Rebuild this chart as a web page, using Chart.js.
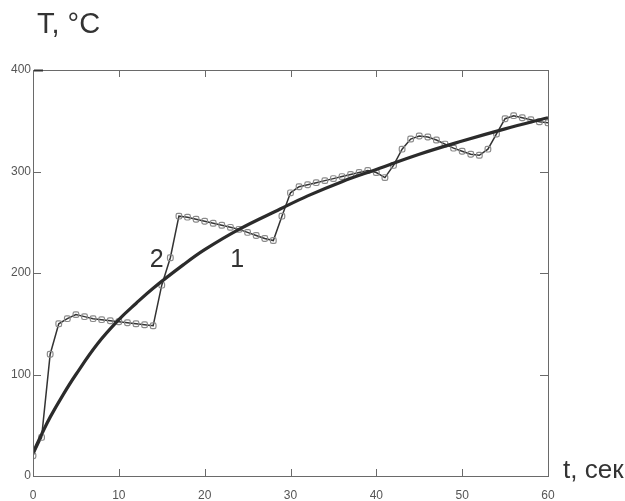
<!DOCTYPE html>
<html><head><meta charset="utf-8">
<script src="https://cdn.jsdelivr.net/npm/chart.js@4/dist/chart.umd.min.js"></script>
<style>html,body{margin:0;padding:0;background:#fff;}canvas{display:block}</style>
</head><body>
<canvas id="c" width="625" height="501"></canvas>
<script>
const xTicks=[0,10,20,30,40,50,60];
const yTicks=[0,100,200,300,400];
// curve 1 (smooth)
const t1=[0,1,2,3.5,5,7.5,10,12,14,17.5,20,24,28.8,32,36,40,45,50,55,60];
const T1=[23,41,58,80,100,130,154,170,185,208,223,243,263,276,290,302,317,330,342,353];
// curve 2 (measured, with markers)
const t2=[0,1,2,3,4,5,6,7,8,9,10,11,12,13,14,15,16,17,18,19,20,21,22,23,24,25,26,27,28,29,30,31,32,33,34,35,36,37,38,39,40,41,42,43,44,45,46,47,48,49,50,51,52,53,54,55,56,57,58,59,60];
const T2=[20,38,120,150,155,159,157,155,154,153,152,151,150,149,148,188,215,256,255,253,251,249,247,245,243,240,237,234,232,256,279,285,287,289,291,293,295,297,299,301,299,294,306,322,332,335,334,331,327,323,320,317,316,322,337,352,355,353,351,349,348];
const curveLabels=[{text:'2',t:14.4,T:213},{text:'1',t:23.8,T:213}];

const pts=(xs,ys)=>xs.map((x,i)=>({x:x,y:ys[i]}));

const framePlugin={
  id:'frame',
  afterDraw(chart){
    const ctx=chart.ctx, a=chart.chartArea, xs=chart.scales.x, ys=chart.scales.y;
    ctx.save();
    ctx.strokeStyle='#6a6a6a'; ctx.lineWidth=1;
    ctx.strokeRect(a.left+0.5,a.top+0.5,a.right-a.left,a.bottom-a.top);
    ctx.beginPath();
    xTicks.slice(1,-1).forEach(v=>{const p=Math.round(xs.getPixelForValue(v))+0.5;
      ctx.moveTo(p,a.bottom);ctx.lineTo(p,a.bottom-7);
      ctx.moveTo(p,a.top);ctx.lineTo(p,a.top+7);});
    yTicks.slice(1,-1).forEach(v=>{const p=Math.round(ys.getPixelForValue(v))+0.5;
      ctx.moveTo(a.left,p);ctx.lineTo(a.left+8,p);
      ctx.moveTo(a.right,p);ctx.lineTo(a.right-8,p);});
    ctx.stroke();
    ctx.lineWidth=2; ctx.strokeStyle='#333';
    ctx.beginPath(); const p4=ys.getPixelForValue(400);
    ctx.moveTo(a.left+1,p4+0.5); ctx.lineTo(a.left+10,p4+0.5); ctx.stroke();
    ctx.fillStyle='#333';
    ctx.font='25px "Liberation Sans", Arial, sans-serif';
    ctx.textAlign='center'; ctx.textBaseline='middle';
    curveLabels.forEach(l=>ctx.fillText(l.text,xs.getPixelForValue(l.t),ys.getPixelForValue(l.T)));
    ctx.textAlign='left'; ctx.textBaseline='alphabetic';
    ctx.font='29px "Liberation Sans", Arial, sans-serif';
    ctx.fillText('T, °C',37,33);
    ctx.font='26px "Liberation Sans", Arial, sans-serif';
    ctx.fillText('t, сек',563,478);
    ctx.restore();
  }
};

new Chart(document.getElementById('c'),{
  type:'scatter',
  data:{datasets:[
    {data:pts(t1,T1),showLine:true,borderColor:'#2b2b2b',borderWidth:3.2,pointRadius:0,tension:0.4},
    {data:pts(t2,T2),showLine:true,borderColor:'#333',borderWidth:1.5,pointRadius:3.3,pointStyle:'rectRounded',pointBorderColor:'#8a8a8a',pointBorderWidth:1.2,pointBackgroundColor:'rgba(255,255,255,0)'}
  ]},
  options:{
    responsive:false,animation:false,
    layout:{padding:{left:0,top:70,right:77,bottom:0}},
    plugins:{legend:{display:false},tooltip:{enabled:false}},
    scales:{
      x:{type:'linear',min:0,max:60,
        afterBuildTicks:s=>{s.ticks=xTicks.map(v=>({value:v}));},
        afterFit:s=>{s.height=25;},
        grid:{display:false,drawTicks:false},border:{display:false},
        ticks:{padding:12,color:'#555',font:{size:12,family:'"Liberation Sans", Arial, sans-serif'}}},
      y:{type:'linear',min:0,max:400,
        afterBuildTicks:s=>{s.ticks=yTicks.map(v=>({value:v}));},
        afterFit:s=>{s.width=33;},
        grid:{display:false,drawTicks:false},border:{display:false},
        ticks:{padding:2,color:'#555',font:{size:12,family:'"Liberation Sans", Arial, sans-serif'}}}
    }
  },
  plugins:[framePlugin]
});
</script>
</body></html>
